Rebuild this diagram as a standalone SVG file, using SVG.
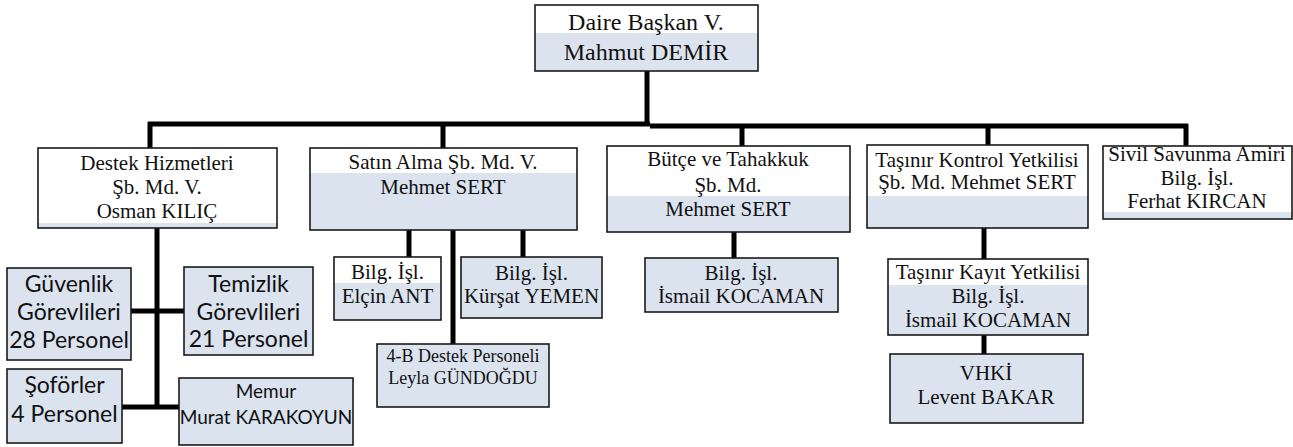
<svg xmlns="http://www.w3.org/2000/svg" width="1293" height="447" viewBox="0 0 1293 447">
<style>
.bg{fill:#ffffff}
.bl{fill:#dbe3ef}
.bd{fill:none;stroke:#1a1a1a;stroke-width:1.6}
.t{font-family:"Liberation Serif","Times New Roman",serif;fill:#111;text-anchor:middle}
.c{font-family:Lato,"Open Sans",sans-serif;fill:#111;text-anchor:middle}
.ln{stroke:#000;stroke-width:5;fill:none}
</style>
<rect width="1293" height="447" fill="#fff"/>
<g id="connectors">
<path class="ln" d="M647 71V124"/>
<path class="ln" d="M148 124H650"/>
<path class="ln" d="M650 126H1188"/>
<path class="ln" d="M150 122V148"/>
<path class="ln" d="M443 122V148"/>
<path class="ln" d="M742 124V146"/>
<path class="ln" d="M988 124V145"/>
<path class="ln" d="M1186 124V146"/>
<path class="ln" d="M157 228V409"/>
<path class="ln" d="M131 311H184"/>
<path class="ln" d="M122 407H179"/>
<path class="ln" d="M409 230V257"/>
<path class="ln" d="M453 227V344"/>
<path class="ln" d="M523 230V257"/>
<path class="ln" d="M734 232V258"/>
<path class="ln" d="M984 228V259"/>
<path class="ln" d="M984 335V354"/>
</g>
<g id="n-daire">
<rect class="bg" x="535" y="5" width="223" height="66"/>
<rect class="bl" x="535" y="33" width="223" height="38"/>
<rect class="bd" x="535" y="5" width="223" height="66"/>
<text class="t" x="646" y="30" font-size="24">Daire Başkan V.</text>
<text class="t" x="646" y="60" font-size="24">Mahmut DEMİR</text>
</g>
<g id="n-destek">
<rect class="bg" x="38" y="148" width="239" height="80"/>
<rect class="bl" x="38" y="223" width="239" height="5"/>
<rect class="bd" x="38" y="148" width="239" height="80"/>
<text class="t" x="157" y="170" font-size="21">Destek Hizmetleri</text>
<text class="t" x="157" y="194" font-size="21">Şb. Md. V.</text>
<text class="t" x="157" y="218" font-size="21">Osman KILIÇ</text>
</g>
<g id="n-satin">
<rect class="bg" x="310" y="148" width="267" height="82"/>
<rect class="bl" x="310" y="173" width="267" height="57"/>
<rect class="bd" x="310" y="148" width="267" height="82"/>
<text class="t" x="443" y="169" font-size="21">Satın Alma Şb. Md. V.</text>
<text class="t" x="443" y="194" font-size="21">Mehmet SERT</text>
</g>
<g id="n-butce">
<rect class="bg" x="607" y="146" width="243" height="86"/>
<rect class="bl" x="607" y="196" width="243" height="36"/>
<rect class="bd" x="607" y="146" width="243" height="86"/>
<text class="t" x="728" y="166" font-size="21">Bütçe ve Tahakkuk</text>
<text class="t" x="728" y="192" font-size="21">Şb. Md.</text>
<text class="t" x="728" y="216" font-size="21">Mehmet SERT</text>
</g>
<g id="n-tasinir-kontrol">
<rect class="bg" x="867" y="145" width="221" height="83"/>
<rect class="bl" x="867" y="196" width="221" height="32"/>
<rect class="bd" x="867" y="145" width="221" height="83"/>
<text class="t" x="977" y="167" font-size="21">Taşınır Kontrol Yetkilisi</text>
<text class="t" x="977" y="189" font-size="21">Şb. Md. Mehmet SERT</text>
</g>
<g id="n-sivil">
<rect class="bg" x="1103" y="146" width="189" height="73"/>
<rect class="bl" x="1103" y="212" width="189" height="7"/>
<rect class="bd" x="1103" y="146" width="189" height="73"/>
<text class="t" x="1197" y="161" font-size="21">Sivil Savunma Amiri</text>
<text class="t" x="1197" y="185" font-size="21">Bilg. İşl.</text>
<text class="t" x="1197" y="208" font-size="21">Ferhat KIRCAN</text>
</g>
<g id="n-elcin">
<rect class="bg" x="334" y="257" width="107" height="63"/>
<rect class="bl" x="334" y="283" width="107" height="37"/>
<rect class="bd" x="334" y="257" width="107" height="63"/>
<text class="t" x="387.5" y="279" font-size="21">Bilg. İşl.</text>
<text class="t" x="387.5" y="303" font-size="21">Elçin ANT</text>
</g>
<g id="n-kursat">
<rect class="bl" x="461" y="257" width="141" height="61"/>
<rect class="bd" x="461" y="257" width="141" height="61"/>
<text class="t" x="531.5" y="280" font-size="21">Bilg. İşl.</text>
<text class="t" x="531.5" y="303" font-size="21">Kürşat YEMEN</text>
</g>
<g id="n-4b">
<rect class="bl" x="377" y="344" width="172" height="63"/>
<rect class="bd" x="377" y="344" width="172" height="63"/>
<text class="t" x="463" y="362" font-size="18">4-B Destek Personeli</text>
<text class="t" x="463" y="384" font-size="18">Leyla GÜNDOĞDU</text>
</g>
<g id="n-ismail">
<rect class="bl" x="645" y="258" width="193" height="54"/>
<rect class="bd" x="645" y="258" width="193" height="54"/>
<text class="t" x="741" y="280" font-size="21">Bilg. İşl.</text>
<text class="t" x="741" y="303" font-size="21">İsmail KOCAMAN</text>
</g>
<g id="n-tasinir-kayit">
<rect class="bg" x="888" y="259" width="200" height="76"/>
<rect class="bl" x="888" y="285" width="200" height="50"/>
<rect class="bd" x="888" y="259" width="200" height="76"/>
<text class="t" x="988" y="279" font-size="21">Taşınır Kayıt Yetkilisi</text>
<text class="t" x="988" y="303" font-size="21">Bilg. İşl.</text>
<text class="t" x="988" y="327" font-size="21">İsmail KOCAMAN</text>
</g>
<g id="n-vhki">
<rect class="bl" x="890" y="354" width="193" height="69"/>
<rect class="bd" x="890" y="354" width="193" height="69"/>
<text class="t" x="986" y="380" font-size="21">VHKİ</text>
<text class="t" x="986" y="404" font-size="21">Levent BAKAR</text>
</g>
<g id="n-guvenlik">
<rect class="bl" x="7" y="268" width="124" height="92"/>
<rect class="bd" x="7" y="268" width="124" height="92"/>
<text class="c" x="69" y="292" font-size="23">Güvenlik</text>
<text class="c" x="69" y="320" font-size="23">Görevlileri</text>
<text class="c" x="69" y="348" font-size="23">28 Personel</text>
</g>
<g id="n-temizlik">
<rect class="bl" x="184" y="267" width="129" height="88"/>
<rect class="bd" x="184" y="267" width="129" height="88"/>
<text class="c" x="248.5" y="292" font-size="23">Temizlik</text>
<text class="c" x="248.5" y="320" font-size="23">Görevlileri</text>
<text class="c" x="248.5" y="347" font-size="23">21 Personel</text>
</g>
<g id="n-soforler">
<rect class="bl" x="7" y="369" width="115" height="74"/>
<rect class="bd" x="7" y="369" width="115" height="74"/>
<text class="c" x="64.5" y="393" font-size="23">Şoförler</text>
<text class="c" x="64.5" y="422" font-size="23">4 Personel</text>
</g>
<g id="n-memur">
<rect class="bl" x="179" y="378" width="174" height="67"/>
<rect class="bd" x="179" y="378" width="174" height="67"/>
<text class="c" x="266" y="398" font-size="19">Memur</text>
<text class="c" x="266" y="424" font-size="19">Murat KARAKOYUN</text>
</g>
</svg>
